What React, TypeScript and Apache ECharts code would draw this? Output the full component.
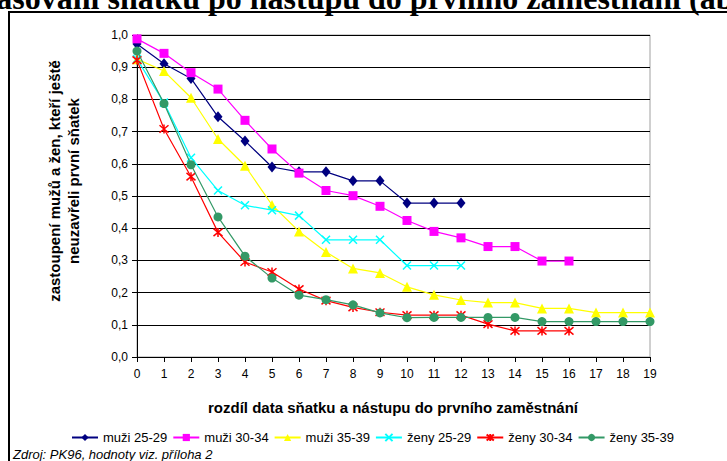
import React, { useEffect, useRef } from 'react';
import * as echarts from 'echarts';

const categories = ['0','1','2','3','4','5','6','7','8','9','10','11','12','13','14','15','16','17','18','19'];
const seriesNames = ['muži 25-29', 'muži 30-34', 'muži 35-39', 'ženy 25-29', 'ženy 30-34', 'ženy 35-39'];
const muzi2529 = [0.972, 0.911, 0.865, 0.746, 0.671, 0.590, 0.575, 0.575, 0.547, 0.547, 0.478, 0.478, 0.478];
const muzi3034 = [0.988, 0.943, 0.883, 0.832, 0.735, 0.646, 0.571, 0.517, 0.501, 0.468, 0.424, 0.390, 0.370, 0.343, 0.343, 0.298, 0.298];
const muzi3539 = [0.925, 0.888, 0.805, 0.677, 0.594, 0.472, 0.390, 0.326, 0.275, 0.261, 0.218, 0.193, 0.177, 0.169, 0.169, 0.151, 0.151, 0.138, 0.138, 0.138];
const zeny2529 = [0.925, 0.790, 0.619, 0.517, 0.471, 0.456, 0.439, 0.364, 0.364, 0.364, 0.284, 0.284, 0.284];
const zeny3034 = [0.922, 0.708, 0.560, 0.387, 0.295, 0.264, 0.211, 0.175, 0.154, 0.139, 0.130, 0.130, 0.130, 0.102, 0.081, 0.081, 0.081];
const zeny3539 = [0.950, 0.787, 0.597, 0.435, 0.313, 0.245, 0.192, 0.178, 0.162, 0.137, 0.122, 0.123, 0.123, 0.123, 0.123, 0.110, 0.110, 0.110, 0.110, 0.110];

const FONT = '"Liberation Sans", Arial, sans-serif';

export default function App() {
  const ref = useRef<HTMLDivElement>(null);
  useEffect(() => {
    document.body.style.margin = '0';
    if (!ref.current) return;
    const chart = echarts.init(ref.current, undefined, { renderer: 'svg' });
    const values = [muzi2529, muzi3034, muzi3539, zeny2529, zeny3034, zeny3539];
    const colors = ['#000080', '#FF00FF', '#FFFF00', '#00FFFF', '#FF0000', '#339966'];
    const symbols = [
      'diamond',
      'rect',
      'triangle',
      'path://M0,0L10,10M10,0L0,10',
      'path://M0,0L10,10M10,0L0,10M5,-1L5,11',
      'circle',
    ];
    const sizes: any[] = [[9, 11], 9, 10, 8, 9, 9];
    const series = seriesNames.map((name, i) => ({
      name,
      type: 'line',
      data: values[i],
      symbol: symbols[i],
      symbolSize: sizes[i],
      showAllSymbol: true,
      lineStyle: { color: colors[i], width: 1.2 },
      itemStyle: {
        color: colors[i],
        borderColor: colors[i],
        borderWidth: i === 3 || i === 4 ? 1.5 : 0,
      },
      z: 3 + i,
    }));
    chart.setOption({
      animation: false,
      backgroundColor: '#ffffff',
      textStyle: { fontFamily: FONT },
      grid: {
        left: 137,
        top: 35,
        right: 77,
        bottom: 104,
        show: true,
        borderColor: '#a0a0a0',
        borderWidth: 1,
      },
      xAxis: {
        type: 'category',
        data: categories,
        boundaryGap: false,
        axisLine: { lineStyle: { color: '#000', width: 1 } },
        axisTick: { show: true, length: 5, alignWithLabel: true, lineStyle: { color: '#000' } },
        axisLabel: { color: '#000', fontSize: 12, margin: 11, fontFamily: FONT, interval: 0 },
        splitLine: { show: false },
      },
      yAxis: {
        type: 'value',
        min: 0,
        max: 1,
        interval: 0.1,
        axisLine: { show: true, lineStyle: { color: '#000', width: 1 } },
        axisTick: { show: true, length: 5, lineStyle: { color: '#000' } },
        axisLabel: {
          color: '#000',
          fontSize: 12,
          margin: 9,
          fontFamily: FONT,
          formatter: (v: number) => v.toFixed(1).replace('.', ','),
        },
        splitLine: { show: true, lineStyle: { color: '#000', width: 1 } },
      },
      legend: {
        data: seriesNames,
        top: 426,
        left: 66,
        itemWidth: 26,
        itemHeight: 9,
        itemGap: 5,
        textStyle: { fontSize: 13, color: '#000', fontFamily: FONT },
      },
      graphic: [
        {
          type: 'rect',
          shape: { x: 9, y: 12, width: 760, height: 480 },
          style: { fill: 'none', stroke: '#000', lineWidth: 2 },
          silent: true,
        },
        {
          type: 'text',
          x: -57,
          y: -2,
          style: {
            text: 'Načasování sňatku po nástupu do prvního zaměstnání (absolutní hodnoty)',
            font: 'bold 32px "Liberation Serif", "Times New Roman", serif',
            fill: '#000',
            textAlign: 'left',
            textVerticalAlign: 'middle',
          },
        },
        {
          type: 'text',
          x: 64,
          y: 181,
          rotation: Math.PI / 2,
          style: {
            text: 'zastoupení mužů a žen, kteří ještě\nneuzavřeli první sňatek',
            font: 'bold 15px ' + FONT,
            fill: '#000',
            textAlign: 'center',
            textVerticalAlign: 'middle',
            lineHeight: 19,
          },
        },
        {
          type: 'text',
          x: 393,
          y: 407,
          style: {
            text: 'rozdíl data sňatku a nástupu do prvního zaměstnání',
            font: 'bold 15px ' + FONT,
            fill: '#000',
            textAlign: 'center',
            textVerticalAlign: 'middle',
          },
        },
        {
          type: 'text',
          x: 13,
          y: 454,
          style: {
            text: 'Zdroj: PK96, hodnoty viz. příloha 2',
            font: 'italic 13px ' + FONT,
            fill: '#000',
            textAlign: 'left',
            textVerticalAlign: 'middle',
          },
        },
      ],
      series,
    });
    return () => chart.dispose();
  }, []);
  return <div ref={ref} style={{ width: 727, height: 461 }} />;
}
